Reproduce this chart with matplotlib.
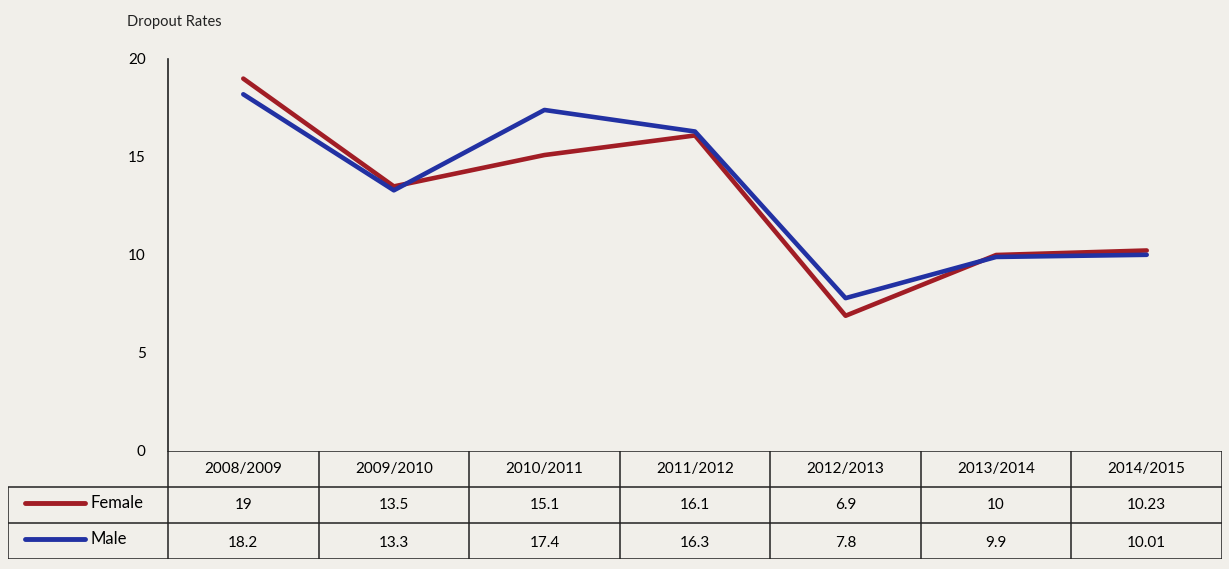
import matplotlib
matplotlib.use('Agg')
import matplotlib.pyplot as plt

years = ['2008/2009', '2009/2010', '2010/2011', '2011/2012',
         '2012/2013', '2013/2014', '2014/2015']
female = [19, 13.5, 15.1, 16.1, 6.9, 10, 10.23]
male = [18.2, 13.3, 17.4, 16.3, 7.8, 9.9, 10.01]
female_txt = ['19', '13.5', '15.1', '16.1', '6.9', '10', '10.23']
male_txt = ['18.2', '13.3', '17.4', '16.3', '7.8', '9.9', '10.01']
yticks = [0, 5, 10, 15, 20]

RED = '#a11d25'
BLUE = '#2231a3'
BG = '#f1efea'
FONT = 'Lato'

W, H = 1229, 569
fig = plt.figure(figsize=(W / 100, H / 100), dpi=100, facecolor=BG)


def px_rect(x0, y0, x1, y1):
    """Figure rect from pixel box (top-left origin)."""
    return [x0 / W, 1 - y1 / H, (x1 - x0) / W, (y1 - y0) / H]


# ---- line chart ----
n = len(years)
ax_left, ax_right, ax_top, ax_bot = 168, 1222, 59, 451
ax = fig.add_axes(px_rect(ax_left, ax_top, ax_right, ax_bot))
ax.set_facecolor('none')
xs = [i + 0.5 for i in range(n)]
ax.plot(xs, female, color=RED, lw=3.3, solid_capstyle='round', zorder=2)
ax.plot(xs, male, color=BLUE, lw=3.3, solid_capstyle='round', zorder=3)
ax.set_xlim(0, n)
ax.set_ylim(0, 20)
ax.set_yticks(yticks)
ax.set_yticklabels([str(t) for t in yticks], family=FONT, fontsize=11)
ax.set_xticks([])
ax.tick_params(axis='y', length=0, pad=16)
for s in ['top', 'right', 'bottom']:
    ax.spines[s].set_visible(False)
ax.spines['left'].set_linewidth(1.2)
ax.spines['left'].set_color('#222222')

fig.text(127 / W, 1 - 22 / H, 'Dropout Rates', family=FONT, fontsize=10.5,
         va='center', ha='left', color='#222222')

# ---- data table ----
col_w = (ax_right - ax_left) / n
lab_w = (ax_left - 8) / col_w
tab = fig.add_axes(px_rect(8, 451, ax_right, 559))
tab.set_xlim(-lab_w, n)
tab.set_ylim(3, 0)
tab.axis('off')

lw = 1.1
lc = '#222222'
# horizontal lines
tab.hlines(0, 0, n, color=lc, lw=lw)
for r in [1, 2, 3]:
    tab.hlines(r, -lab_w, n, color=lc, lw=lw)
# vertical lines
tab.vlines(-lab_w, 1, 3, color=lc, lw=lw)
for c in range(n + 1):
    tab.vlines(c, 0, 3, color=lc, lw=lw)

fs = 11
for i, yr in enumerate(years):
    tab.text(i + 0.5, 0.5, yr, ha='center', va='center', family=FONT, fontsize=fs)
    tab.text(i + 0.5, 1.5, female_txt[i], ha='center', va='center', family=FONT, fontsize=fs)
    tab.text(i + 0.5, 2.55, male_txt[i], ha='center', va='center', family=FONT, fontsize=fs)

# row labels with legend swatches
for row, name, col in [(1, 'Female', RED), (2, 'Male', BLUE)]:
    tab.plot([-lab_w + 0.115, -lab_w + 0.51], [row + 0.45, row + 0.45], color=col,
             lw=3.5, solid_capstyle='round')
    tab.text(-lab_w + 0.55, row + 0.45, name, ha='left', va='center',
             family=FONT, fontsize=12)

fig.savefig('out.png', dpi=100, facecolor=BG)
